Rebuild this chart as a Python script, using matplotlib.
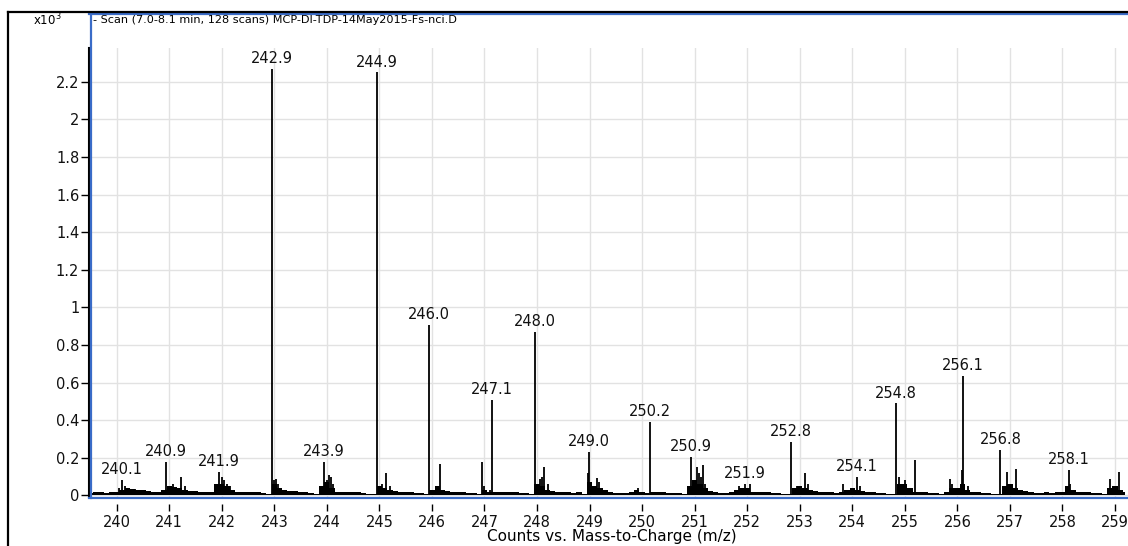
import numpy as np
import matplotlib
matplotlib.use("Agg")
from matplotlib import pyplot as plt
from matplotlib.lines import Line2D

# baseline level, one value per 0.1 m/z step starting at 239.5
baseline_start = 239.5
baseline_h = [
    0.015, 0.02, 0.02, 0.015, 0.02,
    0.02, 0.03, 0.04, 0.035, 0.03, 0.03, 0.025, 0.02, 0.02, 0.03,
    0.05, 0.045, 0.04, 0.03, 0.025, 0.025, 0.02, 0.02, 0.02, 0.06,
    0.06, 0.05, 0.03, 0.02, 0.02, 0.02, 0.02, 0.02, 0.015, 0.01,
    0.06, 0.04, 0.03, 0.025, 0.025, 0.02, 0.02, 0.015, 0.01, 0.05,
    0.07, 0.04, 0.02, 0.02, 0.02, 0.02, 0.02, 0.015, 0.01, 0.01,
    0.05, 0.04, 0.03, 0.025, 0.02, 0.02, 0.02, 0.015, 0.015, 0.01,
    0.03, 0.05, 0.03, 0.025, 0.02, 0.02, 0.02, 0.015, 0.015, 0.01,
    0.03, 0.02, 0.02, 0.02, 0.02, 0.02, 0.02, 0.015, 0.015, 0.01,
    0.06, 0.05, 0.03, 0.025, 0.02, 0.02, 0.02, 0.015, 0.02, 0.01,
    0.07, 0.05, 0.04, 0.03, 0.02, 0.015, 0.015, 0.015, 0.02, 0.03,
    0.02, 0.015, 0.02, 0.02, 0.02, 0.015, 0.015, 0.015, 0.01, 0.05,
    0.08, 0.06, 0.04, 0.025, 0.02, 0.015, 0.015, 0.02, 0.03, 0.04,
    0.04, 0.02, 0.02, 0.02, 0.02, 0.015, 0.015, 0.01, 0.01, 0.04,
    0.05, 0.04, 0.03, 0.025, 0.02, 0.02, 0.02, 0.015, 0.02, 0.03,
    0.04, 0.03, 0.025, 0.02, 0.02, 0.015, 0.015, 0.01, 0.01, 0.06,
    0.06, 0.04, 0.02, 0.02, 0.02, 0.015, 0.015, 0.01, 0.02, 0.04,
    0.04, 0.06, 0.03, 0.02, 0.02, 0.015, 0.015, 0.01, 0.01, 0.05,
    0.06, 0.04, 0.03, 0.025, 0.02, 0.015, 0.015, 0.02, 0.015, 0.02,
    0.02, 0.05, 0.03, 0.02, 0.02, 0.02, 0.015, 0.015, 0.01, 0.04,
    0.05, 0.03, 0.02,
]

# individual peaks (m/z, counts x10^3)
peak_mz = [
    240.05, 240.10, 240.15, 240.22, 240.35,
    240.94, 241.02, 241.08, 241.22, 241.30,
    241.95, 242.00, 242.05, 242.10, 242.15,
    242.96, 243.00, 243.03, 243.07,
    243.94, 244.00, 244.05, 244.08, 244.12,
    244.95, 245.05, 245.12, 245.20,
    245.94, 246.10, 246.15,
    246.95, 247.00, 247.10, 247.14,
    247.96, 248.05, 248.10, 248.14, 248.20,
    248.97, 248.99, 249.14, 249.18,
    249.93, 250.15,
    250.88, 250.93, 251.04, 251.08, 251.12, 251.16, 251.20,
    251.85, 251.95, 252.05,
    252.83, 252.95, 253.10, 253.15,
    253.82, 254.09, 254.15,
    254.83, 254.88, 255.00, 255.20,
    255.86, 255.90, 256.08, 256.11, 256.20,
    256.82, 256.94, 257.00, 257.11,
    258.12, 258.15,
    258.90, 259.08,
]
peak_h = [
    0.04, 0.082, 0.05, 0.04, 0.035,
    0.18, 0.05, 0.06, 0.10, 0.05,
    0.127, 0.10, 0.08, 0.06, 0.05,
    2.27, 0.08, 0.09, 0.06,
    0.18, 0.08, 0.11, 0.10, 0.06,
    2.25, 0.06, 0.12, 0.05,
    0.907, 0.05, 0.17,
    0.18, 0.05, 0.03, 0.51,
    0.87, 0.09, 0.10, 0.153, 0.06,
    0.12, 0.233, 0.095, 0.07,
    0.04, 0.39,
    0.05, 0.206, 0.153, 0.12, 0.10, 0.162, 0.06,
    0.05, 0.06, 0.06,
    0.286, 0.05, 0.12, 0.06,
    0.06, 0.098, 0.05,
    0.49, 0.10, 0.08, 0.19,
    0.088, 0.06, 0.136, 0.636, 0.05,
    0.242, 0.127, 0.06, 0.14,
    0.136, 0.06,
    0.088, 0.127,
]

# labelled peaks
label_mz = [240.10, 240.94, 241.95, 242.96, 243.94, 244.95, 245.94, 247.14,
            247.96, 248.99, 250.15, 250.93, 251.95, 252.83, 254.09, 254.83,
            256.11, 256.82, 258.12]
label_h = [0.082, 0.18, 0.127, 2.27, 0.18, 2.25, 0.907, 0.51,
           0.87, 0.233, 0.39, 0.206, 0.06, 0.286, 0.098, 0.49,
           0.636, 0.242, 0.136]
label_text = ["240.1", "240.9", "241.9", "242.9", "243.9", "244.9", "246.0", "247.1",
              "248.0", "249.0", "250.2", "250.9", "251.9", "252.8", "254.1", "254.8",
              "256.1", "256.8", "258.1"]

x_ticks = list(range(240, 260))
y_ticks = [0, 0.2, 0.4, 0.6, 0.8, 1, 1.2, 1.4, 1.6, 1.8, 2, 2.2]
y_tick_labels = ["0", "0.2", "0.4", "0.6", "0.8", "1", "1.2", "1.4", "1.6", "1.8", "2", "2.2"]

W, H = 1128, 546
blue = "#3a6cc8"

def fx(px):
    return px / W

def fy(py):
    return 1 - py / H

plt.rcParams['font.family'] = 'DejaVu Sans'
fig = plt.figure(figsize=(W / 100, H / 100), dpi=100)

ax = fig.add_axes([fx(89), fy(497), fx(W) - fx(89), fy(48) - fy(497)])

# baseline band
base_x = baseline_start + 0.1 * np.arange(len(baseline_h))
ax.fill_between(base_x, 0, baseline_h, step='mid', color='black', linewidth=0)
ax.vlines(peak_mz, 0, peak_h, color='black', linewidth=1.3)

for m, h, t in zip(label_mz, label_h, label_text):
    ax.annotate(t, (m, h), xytext=(0, 2), textcoords='offset points',
                ha='center', va='bottom', fontsize=10.5, color='#111111')

ax.set_xlim(239.473, 259.248)
ax.set_ylim(-0.008, 2.38)
ax.set_xticks(x_ticks)
ax.set_xticklabels([str(t) for t in x_ticks])
ax.set_yticks(y_ticks)
ax.set_yticklabels(y_tick_labels)
ax.grid(True, color='#e2e2e2', linewidth=1)
ax.set_axisbelow(True)

for s in ['top', 'right']:
    ax.spines[s].set_visible(False)
ax.spines['bottom'].set_position(('outward', 5))
ax.spines['bottom'].set_visible(False)
ax.spines['left'].set_linewidth(1.5)
ax.tick_params(axis='x', direction='out', length=5, width=1, pad=3, labelsize=10.5,
               labelcolor='#111111')
ax.tick_params(axis='y', direction='out', length=6, width=1, pad=1, labelsize=10.5,
               labelcolor='#111111')

# blue frame around plot window
fig.add_artist(Line2D([fx(89), fx(W)], [fy(13.5), fy(13.5)], color=blue, linewidth=1.6))
fig.add_artist(Line2D([fx(90.5), fx(90.5)], [fy(13.5), fy(497.5)], color=blue, linewidth=1.6))
fig.add_artist(Line2D([fx(89), fx(W)], [fy(497.5), fy(497.5)], color=blue, linewidth=1.6))

# outer black window border
fig.add_artist(Line2D([fx(8), fx(W)], [fy(11.5), fy(11.5)], color='black', linewidth=1.6))
fig.add_artist(Line2D([fx(8), fx(8)], [fy(11.5), fy(H)], color='black', linewidth=1.6))

fig.text(fx(93), fy(20), "- Scan (7.0-8.1 min, 128 scans) MCP-DI-TDP-14May2015-Fs-nci.D",
         ha='left', va='center', fontsize=8.1)
fig.text(fx(62), fy(20), r"x10$^{3}$", ha='right', va='center', fontsize=8.5)
fig.text(fx(612), fy(537), "Counts vs. Mass-to-Charge (m/z)", ha='center', va='center', fontsize=11)

fig.savefig("out.png", dpi=100)
